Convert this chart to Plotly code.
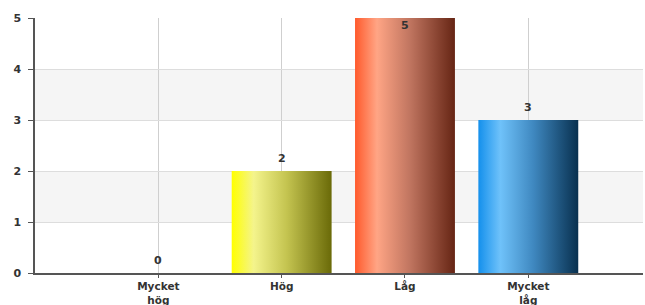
import plotly.graph_objects as go

categories = ["Mycket<br>hög", "Hög", "Låg", "Mycket<br>låg"]
values = [0, 2, 5, 3]
positions = [1, 2, 3, 4]
y_ticks = [0, 1, 2, 3, 4, 5]
gradients = [
    [[0, "#ffff00"], [0.22, "#f4f48c"], [0.55, "#c4c450"], [1, "#6a6a08"]],
    [[0, "#ffff00"], [0.22, "#f4f48c"], [0.55, "#c4c450"], [1, "#6a6a08"]],
    [[0, "#ff5a2c"], [0.22, "#ffa585"], [0.55, "#c07560"], [1, "#662514"]],
    [[0, "#1490ec"], [0.22, "#6fc2fa"], [0.55, "#3f88c0"], [1, "#08304f"]],
]

YMAX = 5
HALF = 0.405
FONT = dict(family="DejaVu Sans", size=11, color="#333333", weight="bold")
XFONT = dict(family="DejaVu Sans", size=10.5, color="#333333", weight="bold")

fig = go.Figure()

for p, v, cs in zip(positions, values, gradients):
    if v <= 0:
        continue
    fig.add_trace(go.Scatter(
        x=[p - HALF, p + HALF, p + HALF, p - HALF, p - HALF],
        y=[0, 0, v, v, 0],
        mode="lines",
        line=dict(width=0),
        fill="toself",
        fillgradient=dict(type="horizontal", colorscale=cs),
        hoverinfo="skip",
        showlegend=False,
    ))

annotations = []
for p, v in zip(positions, values):
    inside = v >= YMAX
    annotations.append(dict(
        x=p, y=v, xref="x", yref="y", text=str(v), showarrow=False,
        yanchor="top" if inside else "bottom",
        yshift=1 if inside else 4,
        font=FONT,
    ))

shapes = []
for lo in (1, 3):
    shapes.append(dict(type="rect", xref="paper", yref="y", x0=0, x1=1, y0=lo, y1=lo + 1,
                       fillcolor="#f5f5f5", line=dict(width=0), layer="below"))

fig.update_layout(
    width=645, height=305,
    margin=dict(l=35, r=2, t=18, b=32),
    paper_bgcolor="white",
    plot_bgcolor="white",
    shapes=shapes,
    annotations=annotations,
    font=FONT,
    xaxis=dict(
        range=[0, 4.93],
        tickvals=positions,
        ticktext=categories,
        showgrid=True, gridcolor="#cfcfcf", gridwidth=1,
        zeroline=False,
        showline=True, linecolor="#555555", linewidth=1.5,
        ticks="outside", ticklen=3, tickcolor="#555555",
        tickfont=XFONT,
        automargin=False,
        fixedrange=True,
    ),
    yaxis=dict(
        range=[0, YMAX],
        tickvals=y_ticks,
        showgrid=True, gridcolor="#dddddd", gridwidth=1,
        zeroline=False,
        showline=True, linecolor="#555555", linewidth=1.5,
        ticks="outside", ticklen=5, tickcolor="#555555",
        tickfont=FONT,
        ticklabelstandoff=5,
        automargin=False,
        fixedrange=True,
    ),
)

fig.write_html(
    "out.html",
    config={"displayModeBar": False},
    post_script="document.body.style.margin='0';document.body.style.overflow='hidden';",
)
